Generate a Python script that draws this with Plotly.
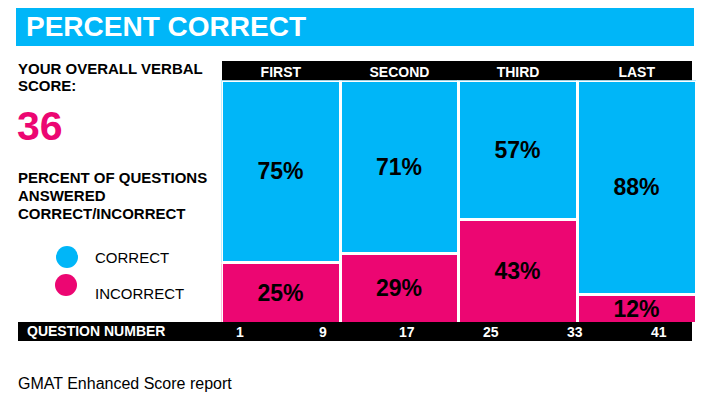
import plotly.graph_objects as go

# ---- data ----
segments = ["FIRST", "SECOND", "THIRD", "LAST"]
correct_pct = [75, 71, 57, 88]
incorrect_pct = [25, 29, 43, 12]
question_ticks = [1, 9, 17, 25, 33, 41]
overall_score = 36

title_text = "PERCENT CORRECT"
footer_text = "GMAT Enhanced Score report"

BLUE = "#00b6f8"
PINK = "#ec0672"
FONT = "Liberation Sans, Arial, Helvetica, sans-serif"

# page body has an 8px margin; figure sized to fit the window inside it
OFF = 8
W, H = 706 - 2 * OFF, 401 - 2 * OFF


def px(x):
    """window pixel x -> paper fraction"""
    return (x - OFF) / W


def py(y):
    """window pixel y -> paper fraction"""
    return (H - (y - OFF)) / H


fig = go.Figure()

bar_text_font = dict(family=FONT, size=23, color="black", weight="bold")
fig.add_trace(go.Bar(
    x=segments, y=incorrect_pct, name="INCORRECT",
    marker=dict(color=PINK, line=dict(color="white", width=3)),
    texttemplate="%{y}%", textposition="inside", insidetextanchor="middle",
    constraintext="none", textfont=bar_text_font,
    hoverinfo="skip", showlegend=False,
))
fig.add_trace(go.Bar(
    x=segments, y=correct_pct, name="CORRECT",
    marker=dict(color=BLUE, line=dict(color="white", width=3)),
    texttemplate="%{y}%", textposition="inside", insidetextanchor="middle",
    constraintext="none", textfont=bar_text_font,
    hoverinfo="skip", showlegend=False,
))
# invisible trace to carry the question-number axis
fig.add_trace(go.Scatter(
    x=question_ticks, y=[None] * len(question_ticks), xaxis="x2", yaxis="y",
    mode="markers", marker=dict(opacity=0), hoverinfo="skip", showlegend=False,
))

x_left, x_right = 221.5, 696.0
y_top, y_bottom = 80.5, 323.5

# linear map question number -> pixel (fitted to label positions)
q_mid, x_mid, slope = 21.0, 449.3, 10.486
q_lo = q_mid + (x_left - x_mid) / slope
q_hi = q_mid + (x_right - x_mid) / slope

shapes = [
    # title bar
    dict(type="rect", xref="paper", yref="paper", x0=px(16), x1=px(694), y0=py(46), y1=py(4),
         fillcolor=BLUE, line=dict(width=0), layer="below"),
    # header black bar
    dict(type="rect", xref="paper", yref="paper", x0=px(222), x1=px(692), y0=py(80.5), y1=py(61),
         fillcolor="black", line=dict(width=0), layer="below"),
    # bottom black bar
    dict(type="rect", xref="paper", yref="paper", x0=px(18), x1=px(692), y0=py(341), y1=py(322),
         fillcolor="black", line=dict(width=0), layer="above"),
    # legend circles
    dict(type="circle", xref="paper", yref="paper", x0=px(56), x1=px(78), y0=py(268), y1=py(246),
         fillcolor=BLUE, line=dict(width=0)),
    dict(type="circle", xref="paper", yref="paper", x0=px(55), x1=px(77), y0=py(296), y1=py(274),
         fillcolor=PINK, line=dict(width=0)),
]


def ann(text, x, y, size, color="black", bold=True, xanchor="left"):
    return dict(text=text, x=px(x), y=py(y), xref="paper", yref="paper", xanchor=xanchor,
                yanchor="middle", showarrow=False,
                font=dict(family=FONT, size=size, color=color, weight="bold" if bold else "normal"))


annotations = [
    ann(title_text, 24, 26, 28, "white"),
    ann("YOUR OVERALL VERBAL", 16, 68, 15),
    ann("SCORE:", 16, 86, 15),
    ann(str(overall_score), 15, 126, 41, PINK),
    ann("PERCENT OF QUESTIONS", 16, 177, 15),
    ann("ANSWERED", 16, 195, 15),
    ann("CORRECT/INCORRECT", 16, 213, 15),
    ann("CORRECT", 93, 257, 15, bold=False),
    ann("INCORRECT", 93, 293, 15, bold=False),
    ann("QUESTION NUMBER", 25, 331, 14, "white"),
    ann(footer_text, 16, 383, 16, bold=False),
]
# question-number labels placed through the x2 axis scale
for q in question_ticks:
    annotations.append(dict(
        text=str(q), x=q, xref="x2", y=py(331.5), yref="paper", xanchor="center", yanchor="middle",
        showarrow=False, font=dict(family=FONT, size=14, color="white", weight="bold"),
    ))

fig.update_layout(
    width=W, height=H, autosize=False,
    margin=dict(l=0, r=0, t=0, b=0),
    paper_bgcolor="white", plot_bgcolor="white",
    barmode="stack", bargap=0,
    shapes=shapes, annotations=annotations,
    xaxis=dict(domain=[px(x_left), px(x_right)], side="top", showgrid=False, zeroline=False,
               showline=False, ticks="", fixedrange=True,
               tickfont=dict(family=FONT, size=14, color="white", weight="bold")),
    xaxis2=dict(overlaying="x", anchor="free", position=py(y_bottom), side="bottom",
                range=[q_lo, q_hi], showgrid=False, zeroline=False, showline=False, ticks="",
                showticklabels=False, fixedrange=True),
    yaxis=dict(domain=[py(y_bottom), py(y_top)], range=[0, 100], showgrid=False, zeroline=False,
               showline=False, showticklabels=False, ticks="", fixedrange=True),
    font=dict(family=FONT),
)

fig.write_html("out.html")
